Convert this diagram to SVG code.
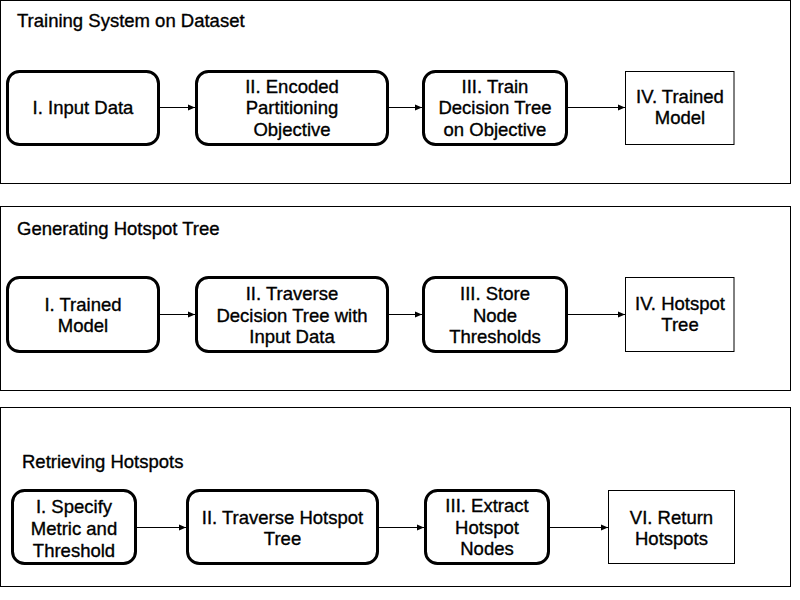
<svg xmlns="http://www.w3.org/2000/svg" width="800" height="600" viewBox="0 0 800 600">
<defs>
<marker id="ah" markerUnits="userSpaceOnUse" markerWidth="8" markerHeight="8" viewBox="0 0 8 8" refX="7" refY="4" orient="auto">
<path d="M0,1 L7,4 L0,7 Z" fill="#000"/>
</marker>
<style>
.panel{fill:#fff;stroke:#000;stroke-width:1}
.rnode{fill:#fff;stroke:#000;stroke-width:3}
.pnode{fill:#fff;stroke:#000;stroke-width:1}
text{font-family:"Liberation Sans",Arial,Helvetica,sans-serif;font-size:18.5px;fill:#000;stroke:#000;stroke-width:0.35}
.c{text-anchor:middle}
.conn{stroke:#000;stroke-width:1;fill:none;marker-end:url(#ah)}
</style>
</defs>
<rect width="800" height="600" fill="#fff"/>
<g id="panel1">
<rect class="panel" x="0.5" y="0.5" width="790" height="183"/>
<text x="17" y="27">Training System on Dataset</text>
</g>
<g id="panel2">
<rect class="panel" x="0.5" y="206.5" width="790" height="184"/>
<text x="17" y="235">Generating Hotspot Tree</text>
</g>
<g id="panel3">
<rect class="panel" x="0.5" y="407.5" width="790" height="179"/>
<text x="22" y="468">Retrieving Hotspots</text>
</g>

<g id="p1n1"><rect class="rnode" x="7.5" y="71.5" width="151" height="73" rx="12"/>
<text class="c" x="83" y="114">I. Input Data</text></g>
<g id="p1n2"><rect class="rnode" x="196.5" y="71.5" width="191" height="73" rx="12"/>
<text class="c" x="292" y="92.5">II. Encoded</text><text class="c" x="292" y="114">Partitioning</text><text class="c" x="292" y="135.5">Objective</text></g>
<g id="p1n3"><rect class="rnode" x="423.5" y="71.5" width="143" height="73" rx="12"/>
<text class="c" x="495" y="92.5">III. Train</text><text class="c" x="495" y="114">Decision Tree</text><text class="c" x="495" y="135.5">on Objective</text></g>
<g id="p1n4"><rect class="pnode" x="625.5" y="71.5" width="108.5" height="73"/>
<text class="c" x="680" y="102.5">IV. Trained</text><text class="c" x="680" y="123.5">Model</text></g>

<g id="p2n1"><rect class="rnode" x="7.5" y="277.5" width="151" height="74" rx="12"/>
<text class="c" x="83" y="311">I. Trained</text><text class="c" x="83" y="332">Model</text></g>
<g id="p2n2"><rect class="rnode" x="196.5" y="277.5" width="191" height="74" rx="12"/>
<text class="c" x="292" y="300">II. Traverse</text><text class="c" x="292" y="321.5">Decision Tree with</text><text class="c" x="292" y="343">Input Data</text></g>
<g id="p2n3"><rect class="rnode" x="423.5" y="277.5" width="143" height="74" rx="12"/>
<text class="c" x="495" y="300">III. Store</text><text class="c" x="495" y="321.5">Node</text><text class="c" x="495" y="343">Thresholds</text></g>
<g id="p2n4"><rect class="pnode" x="625.5" y="277.5" width="108.5" height="74"/>
<text class="c" x="680" y="310">IV. Hotspot</text><text class="c" x="680" y="331">Tree</text></g>

<g id="p3n1"><rect class="rnode" x="12.5" y="490.5" width="123" height="73" rx="12"/>
<text class="c" x="74" y="513">I. Specify</text><text class="c" x="74" y="535">Metric and</text><text class="c" x="74" y="556.5">Threshold</text></g>
<g id="p3n2"><rect class="rnode" x="187.5" y="490.5" width="190" height="73" rx="12"/>
<text class="c" x="282.5" y="523.5">II. Traverse Hotspot</text><text class="c" x="282.5" y="544.5">Tree</text></g>
<g id="p3n3"><rect class="rnode" x="425.5" y="490.5" width="123" height="73" rx="12"/>
<text class="c" x="487" y="512">III. Extract</text><text class="c" x="487" y="533.5">Hotspot</text><text class="c" x="487" y="555">Nodes</text></g>
<g id="p3n4"><rect class="pnode" x="608.5" y="490.5" width="126" height="73"/>
<text class="c" x="671.5" y="524">VI. Return</text><text class="c" x="671.5" y="544.5">Hotspots</text></g>

<g id="connectors">
<line class="conn" x1="160" y1="107.5" x2="195" y2="107.5"/>
<line class="conn" x1="389" y1="107.5" x2="422" y2="107.5"/>
<line class="conn" x1="568" y1="107.5" x2="625" y2="107.5"/>
<line class="conn" x1="160" y1="314.5" x2="195" y2="314.5"/>
<line class="conn" x1="389" y1="314.5" x2="422" y2="314.5"/>
<line class="conn" x1="568" y1="314.5" x2="625" y2="314.5"/>
<line class="conn" x1="137" y1="527.5" x2="186" y2="527.5"/>
<line class="conn" x1="379" y1="527.5" x2="424" y2="527.5"/>
<line class="conn" x1="550" y1="527.5" x2="608" y2="527.5"/>
</g>
</svg>
